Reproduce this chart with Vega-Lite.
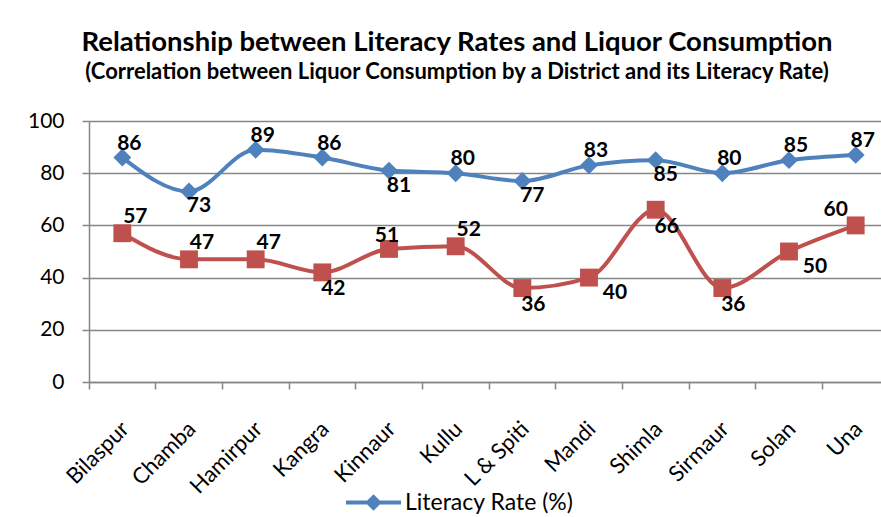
{
  "$schema": "https://vega.github.io/schema/vega-lite/v6.json",
  "width": 792,
  "height": 261,
  "autosize": {"type": "none"},
  "padding": {"left": 89, "top": 121, "right": 0, "bottom": 135},
  "background": "white",
  "title": {
    "text": "Relationship between Literacy Rates and Liquor Consumption",
    "subtitle": "(Correlation between Liquor Consumption by a District and its Literacy Rate)",
    "anchor": "middle",
    "frame": "group",
    "dx": -28,
    "offset": 27,
    "font": "Lato",
    "fontSize": 27.5,
    "fontWeight": "bold",
    "color": "#000000",
    "subtitleFont": "Lato",
    "subtitleFontSize": 22,
    "subtitleFontWeight": "bold",
    "subtitleColor": "#000000",
    "subtitlePadding": 6
  },
  "data": {
    "values": [
      {"District": "Bilaspur", "Series": "Literacy Rate (%)", "Value": 86},
      {"District": "Chamba", "Series": "Literacy Rate (%)", "Value": 73},
      {"District": "Hamirpur", "Series": "Literacy Rate (%)", "Value": 89},
      {"District": "Kangra", "Series": "Literacy Rate (%)", "Value": 86},
      {"District": "Kinnaur", "Series": "Literacy Rate (%)", "Value": 81},
      {"District": "Kullu", "Series": "Literacy Rate (%)", "Value": 80},
      {"District": "L & Spiti", "Series": "Literacy Rate (%)", "Value": 77},
      {"District": "Mandi", "Series": "Literacy Rate (%)", "Value": 83},
      {"District": "Shimla", "Series": "Literacy Rate (%)", "Value": 85},
      {"District": "Sirmaur", "Series": "Literacy Rate (%)", "Value": 80},
      {"District": "Solan", "Series": "Literacy Rate (%)", "Value": 85},
      {"District": "Una", "Series": "Literacy Rate (%)", "Value": 87},
      {"District": "Bilaspur", "Series": "Liquor Consumption (%)", "Value": 57},
      {"District": "Chamba", "Series": "Liquor Consumption (%)", "Value": 47},
      {"District": "Hamirpur", "Series": "Liquor Consumption (%)", "Value": 47},
      {"District": "Kangra", "Series": "Liquor Consumption (%)", "Value": 42},
      {"District": "Kinnaur", "Series": "Liquor Consumption (%)", "Value": 51},
      {"District": "Kullu", "Series": "Liquor Consumption (%)", "Value": 52},
      {"District": "L & Spiti", "Series": "Liquor Consumption (%)", "Value": 36},
      {"District": "Mandi", "Series": "Liquor Consumption (%)", "Value": 40},
      {"District": "Shimla", "Series": "Liquor Consumption (%)", "Value": 66},
      {"District": "Sirmaur", "Series": "Liquor Consumption (%)", "Value": 36},
      {"District": "Solan", "Series": "Liquor Consumption (%)", "Value": 50},
      {"District": "Una", "Series": "Liquor Consumption (%)", "Value": 60}
    ]
  },
  "encoding": {
    "x": {
      "field": "District",
      "type": "nominal",
      "sort": null,
      "title": null,
      "scale": {"type": "band", "range": [0, 800], "paddingInner": 0, "paddingOuter": 0},
      "axis": {
        "bandPosition": 0,
        "grid": false,
        "domainColor": "#868686",
        "domainWidth": 1.5,
        "tickColor": "#868686",
        "tickWidth": 1.5,
        "tickSize": 7,
        "labelAngle": -45,
        "labelAlign": "right",
        "labelBaseline": "middle",
        "labelPadding": 36,
        "labelOffset": 3,
        "labelFont": "Lato",
        "labelFontSize": 22,
        "labelColor": "#000000"
      }
    },
    "y": {
      "field": "Value",
      "type": "quantitative",
      "title": null,
      "scale": {"domain": [0, 100], "nice": false},
      "axis": {
        "values": [0, 20, 40, 60, 80, 100],
        "grid": true,
        "gridColor": "#868686",
        "gridWidth": 1.5,
        "domainColor": "#868686",
        "domainWidth": 1.5,
        "tickColor": "#868686",
        "tickWidth": 1.5,
        "tickSize": 7,
        "labelPadding": 18,
        "labelFont": "Lato",
        "labelFontSize": 21,
        "labelColor": "#000000"
      }
    }
  },
  "layer": [
    {
      "mark": {"type": "line", "interpolate": "monotone", "strokeWidth": 4},
      "encoding": {
        "color": {
          "field": "Series",
          "type": "nominal",
          "scale": {"domain": ["Literacy Rate (%)", "Liquor Consumption (%)"], "range": ["#4F81BD", "#C0504D"]},
          "legend": {
            "values": ["Literacy Rate (%)"],
            "title": null,
            "orient": "none",
            "legendX": 257,
            "legendY": 354,
            "symbolType": "M-1,-0.07L1,-0.07L1,0.07L-1,0.07Z M0,-0.3L0.3,0L0,0.3L-0.3,0Z",
            "symbolSize": 3025,
            "symbolStrokeWidth": 0,
            "labelFont": "Lato",
            "labelFontSize": 23,
            "labelLimit": 400,
            "labelColor": "#000000",
            "labelOffset": 4,
            "encode": {"symbols": {"update": {"fill": {"value": "#4F81BD"}, "stroke": {"value": "#4F81BD"}, "strokeWidth": {"value": 0}, "opacity": {"value": 1}}}}
          }
        }
      }
    },
    {
      "transform": [{"filter": "datum.Series === 'Literacy Rate (%)'"}],
      "mark": {"type": "point", "filled": true, "opacity": 1, "size": 320, "shape": "diamond", "color": "#4F81BD"},
      "encoding": {}
    },
    {
      "transform": [{"filter": "datum.Series === 'Liquor Consumption (%)'"}],
      "mark": {"type": "point", "filled": true, "opacity": 1, "size": 320, "shape": "square", "color": "#C0504D"},
      "encoding": {}
    },
    {
      "transform": [{"filter": "datum.Series === 'Literacy Rate (%)' && indexof(['Bilaspur','Hamirpur','Kangra','Kullu','Mandi','Sirmaur','Solan','Una'], datum.District) >= 0"}],
      "mark": {"type": "text", "dx": 7, "dy": -14, "font": "Lato", "fontSize": 21, "fontWeight": "bold", "color": "#000000"},
      "encoding": {"text": {"field": "Value", "type": "quantitative"}}
    },
    {
      "transform": [{"filter": "datum.Series === 'Literacy Rate (%)' && indexof(['Chamba','Kinnaur','L & Spiti','Shimla'], datum.District) >= 0"}],
      "mark": {"type": "text", "dx": 10, "dy": 15, "font": "Lato", "fontSize": 21, "fontWeight": "bold", "color": "#000000"},
      "encoding": {"text": {"field": "Value", "type": "quantitative"}}
    },
    {
      "transform": [{"filter": "datum.Series === 'Liquor Consumption (%)' && indexof(['Bilaspur','Chamba','Hamirpur','Kullu'], datum.District) >= 0"}],
      "mark": {"type": "text", "dx": 13, "dy": -16, "font": "Lato", "fontSize": 21, "fontWeight": "bold", "color": "#000000"},
      "encoding": {"text": {"field": "Value", "type": "quantitative"}}
    },
    {
      "transform": [{"filter": "datum.Series === 'Liquor Consumption (%)' && indexof(['Kangra','L & Spiti','Shimla','Sirmaur'], datum.District) >= 0"}],
      "mark": {"type": "text", "dx": 11, "dy": 17, "font": "Lato", "fontSize": 21, "fontWeight": "bold", "color": "#000000"},
      "encoding": {"text": {"field": "Value", "type": "quantitative"}}
    },
    {
      "transform": [{"filter": "datum.Series === 'Liquor Consumption (%)' && indexof(['Mandi','Solan'], datum.District) >= 0"}],
      "mark": {"type": "text", "dx": 26, "dy": 15, "font": "Lato", "fontSize": 21, "fontWeight": "bold", "color": "#000000"},
      "encoding": {"text": {"field": "Value", "type": "quantitative"}}
    },
    {
      "transform": [{"filter": "datum.Series === 'Liquor Consumption (%)' && datum.District === 'Kinnaur'"}],
      "mark": {"type": "text", "dx": -2, "dy": -13, "font": "Lato", "fontSize": 21, "fontWeight": "bold", "color": "#000000"},
      "encoding": {"text": {"field": "Value", "type": "quantitative"}}
    },
    {
      "transform": [{"filter": "datum.Series === 'Liquor Consumption (%)' && datum.District === 'Una'"}],
      "mark": {"type": "text", "dx": -20, "dy": -15, "font": "Lato", "fontSize": 21, "fontWeight": "bold", "color": "#000000"},
      "encoding": {"text": {"field": "Value", "type": "quantitative"}}
    }
  ],
  "config": {
    "view": {"stroke": null},
    "font": "Lato"
  }
}
